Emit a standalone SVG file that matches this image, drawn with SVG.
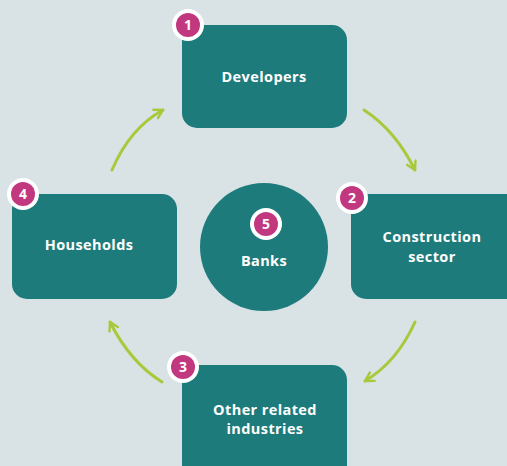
<svg xmlns="http://www.w3.org/2000/svg" width="507" height="466" viewBox="0 0 507 466">
<defs>
<style>
.box{fill:#1e7b7b}
.lbl{font-family:"Open Sans","Liberation Sans",sans-serif;font-weight:bold;font-size:14.5px;letter-spacing:0.4px;fill:#ffffff;text-anchor:middle}
.ring{fill:#ffffff}
.dot{fill:#c2387f}
.num{font-family:"Open Sans","Liberation Sans",sans-serif;font-weight:bold;font-size:14px;fill:#ffffff;text-anchor:middle}
.arr{fill:none;stroke:#a9c83a;stroke-width:3;stroke-linecap:round}
</style>
<marker id="ah" viewBox="0 0 10 10" refX="8" refY="5" markerWidth="4" markerHeight="4" orient="auto" markerUnits="strokeWidth">
<path d="M1,1 L8,5 L1,9" fill="none" stroke="#a9c83a" stroke-width="2" stroke-linecap="round" stroke-linejoin="round"/>
</marker>
</defs>
<rect width="507" height="466" fill="#d9e2e5"/>
<g id="connectors">
<path class="arr" d="M112,170 Q130,128 163,110" marker-end="url(#ah)"/>
<path class="arr" d="M364,110 Q395,130 415,170" marker-end="url(#ah)"/>
<path class="arr" d="M415,322 Q397,362 365,381" marker-end="url(#ah)"/>
<path class="arr" d="M162,382 Q130,362 110,322" marker-end="url(#ah)"/>
</g>
<g id="developers">
<rect class="box" x="182" y="25" width="165" height="103" rx="15"/>
<text class="lbl" x="264" y="82">Developers</text>
<circle class="ring" cx="188" cy="25" r="16"/>
<circle class="dot" cx="188" cy="25" r="12"/>
<text class="num" x="188" y="30">1</text>
</g>
<g id="construction">
<rect class="box" x="351" y="194" width="170" height="105" rx="15"/>
<text class="lbl" x="432" y="242">Construction</text>
<text class="lbl" x="432" y="262">sector</text>
<circle class="ring" cx="352" cy="198" r="16"/>
<circle class="dot" cx="352" cy="198" r="12"/>
<text class="num" x="352" y="203">2</text>
</g>
<g id="other">
<rect class="box" x="182" y="365" width="165" height="120" rx="15"/>
<text class="lbl" x="265" y="415">Other related</text>
<text class="lbl" x="265" y="434">industries</text>
<circle class="ring" cx="183" cy="367" r="16"/>
<circle class="dot" cx="183" cy="367" r="12"/>
<text class="num" x="183" y="372">3</text>
</g>
<g id="households">
<rect class="box" x="12" y="194" width="165" height="105" rx="15"/>
<text class="lbl" x="89" y="250">Households</text>
<circle class="ring" cx="23" cy="194" r="16"/>
<circle class="dot" cx="23" cy="194" r="12"/>
<text class="num" x="23" y="199">4</text>
</g>
<g id="banks">
<circle class="box" cx="264" cy="247" r="64"/>
<text class="lbl" x="264" y="266">Banks</text>
<circle class="ring" cx="266" cy="224" r="16"/>
<circle class="dot" cx="266" cy="224" r="12"/>
<text class="num" x="266" y="229">5</text>
</g>
</svg>
